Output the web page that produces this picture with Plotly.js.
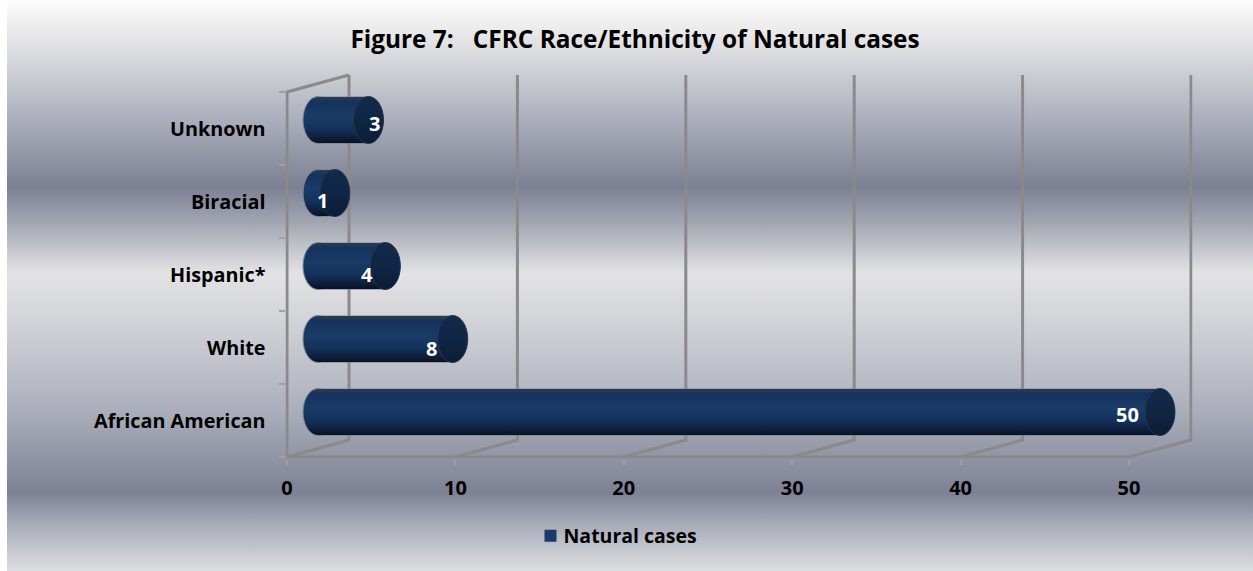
<!DOCTYPE html>
<html>
<head>
<meta charset="utf-8">
<script src="https://cdn.plot.ly/plotly-3.0.1.min.js"></script>
<style>
html,body{margin:0;padding:0;background:#fff;width:1253px;height:571px;overflow:hidden}
#bg{position:absolute;left:7px;top:0;width:1246px;height:571px;
background:linear-gradient(to bottom,#fdfdfd 0px,#e4e4e6 40px,#b6b9c4 105px,#7c8093 187px,#a2a5b1 222px,#e3e3e5 273px,#cdced4 335px,#aeb1bd 405px,#7d8194 493px,#a9acb9 525px,#dddee1 571px)}
#chart{position:absolute;left:0;top:0;width:1253px;height:571px}
</style>
</head>
<body>
<div id="bg"></div>
<div id="chart"></div>
<script>
const titleText = 'Figure 7:\u00A0\u00A0 CFRC Race/Ethnicity of Natural cases';
const seriesName = 'Natural cases';
const categories = ['African American', 'White', 'Hispanic*', 'Biracial', 'Unknown'];
const values = [50, 8, 4, 1, 3];
const xTicks = [0, 10, 20, 30, 40, 50];

// Layout constants (pixels of the 1253x571 page)
const W = 1253, H = 571, FONT = '"Open Sans", "Noto Sans", sans-serif';
const left = 287, right = 1191, floor = 457, top_ = 75;
const pxPerX = 16.84, pxPerBand = 73;
const depthPx = 62, risePx = 17;
const xMax = (right - left) / pxPerX, yMax = (floor - top_) / pxPerBand;
const depthX = depthPx / pxPerX, depthY = risePx / pxPerBand;
const GRID = '#8a8a8a', GRIDW = 3;
const edge = GRIDW / 2; // room around the frame so its lines are not clipped
const capRx = 15 / pxPerX, barFrac = 47 / pxPerBand;
const labelShift = {x: [-33, -21, -18, -12, 6], y: [2, 9, 8, 7, 3]};
const padX = 2; // room on the bar axis for the rounded left ends

// 3-D wall frame built from the axis ticks
const fx = [], fy = [];
xTicks.forEach(t => {
  fx.push(t, t + depthX, t + depthX, null);
  fy.push(0, depthY, yMax, null);
});
fx.push(0, 0, depthX, null, 0, xTicks[xTicks.length - 1]);
fy.push(0, yMax - depthY, yMax, null, 0, 0);

const frame = {type: 'scatter', mode: 'lines', x: fx, y: fy, xaxis: 'x', yaxis: 'y',
  line: {color: GRID, width: GRIDW}, hoverinfo: 'skip', showlegend: false, cliponaxis: false};

const bars = {type: 'bar', orientation: 'h', name: seriesName, x: values, y: categories,
  xaxis: 'x2', yaxis: 'y2', marker: {color: '#1b3a68', line: {width: 0}}, hoverinfo: 'x+y'};

const ry = barFrac / 2;
const capStyle = {type: 'circle', xref: 'x2', yref: 'y2'};
const shapes = [];
values.forEach((v, i) => shapes.push(Object.assign({}, capStyle, {layer: 'below',
  x0: -capRx, x1: capRx, y0: i - ry, y1: i + ry,
  fillcolor: '#1b3a68', line: {color: '#7b8591', width: 1}})));
values.forEach((v, i) => shapes.push(Object.assign({}, capStyle, {layer: 'above',
  x0: v - capRx, x1: v + capRx, y0: i - ry, y1: i + ry,
  fillcolor: '#10284a', line: {color: '#25364f', width: 1}})));

const annotations = values.map((v, i) => ({
  xref: 'x2', yref: 'y2', x: v, y: categories[i], text: String(v), showarrow: false,
  xshift: labelShift.x[i], yshift: -labelShift.y[i],
  font: {family: FONT, size: 20, color: '#fff', weight: 700}
}));

const layout = {
  width: W, height: H, margin: {l: 0, r: 0, t: 0, b: 0},
  paper_bgcolor: 'rgba(0,0,0,0)', plot_bgcolor: 'rgba(0,0,0,0)',
  font: {family: FONT, color: '#000'},
  title: {text: titleText, font: {family: FONT, size: 24.4, color: '#000', weight: 700},
    x: 635 / W, xref: 'paper', xanchor: 'center', y: 1 - 39 / H, yref: 'paper', yanchor: 'middle'},
  bargap: 1 - barFrac, barmode: 'overlay',
  xaxis: {domain: [(left - edge) / W, (right + edge) / W], range: [-edge / pxPerX, xMax + edge / pxPerX], tickmode: 'array', tickvals: xTicks,
    ticks: 'outside', ticklen: 5, tickwidth: 1.5, tickcolor: '#a0a0a0', showgrid: false, zeroline: false,
    showline: false, ticklabelstandoff: 6, tickfont: {family: FONT, size: 20, color: '#000', weight: 700}, anchor: 'y'},
  yaxis: {domain: [1 - (floor + edge) / H, 1 - (top_ - edge) / H], range: [-edge / pxPerBand, yMax + edge / pxPerBand], tickmode: 'array',
    tickvals: categories.map((c, i) => i + 0.5 - 1 / pxPerBand), ticktext: categories, ticks: '',
    minor: {tickvals: [0, 1, 2, 3, 4, 5], ticks: 'outside', ticklen: 6, tickwidth: 1.5, tickcolor: '#a0a0a0', showgrid: false},
    showgrid: false, zeroline: false, showline: false, ticklabelstandoff: 19,
    tickfont: {family: FONT, size: 19.8, color: '#000', weight: 700}, anchor: 'x'},
  xaxis2: {domain: [(left + depthPx / 2 - padX * pxPerX) / W, (right + depthPx / 2) / W], range: [-padX, xMax], visible: false, anchor: 'y2'},
  yaxis2: {domain: [1 - (floor - risePx / 2) / H, 1 - (top_ - risePx / 2) / H], range: [-0.5, yMax - 0.5],
    type: 'category', categoryorder: 'array', categoryarray: categories, visible: false, anchor: 'x2'},
  shapes: shapes, annotations: annotations,
  showlegend: true,
  legend: {orientation: 'h', x: 613 / W, xanchor: 'center', y: 1 - 536 / H, yanchor: 'middle',
    bgcolor: 'rgba(0,0,0,0)', font: {family: FONT, size: 19.5, color: '#000', weight: 700}}
};

Plotly.newPlot('chart', [frame, bars], layout, {displayModeBar: false}).then(gd => {
  const svg = gd.querySelector('.main-svg');
  const NS = 'http://www.w3.org/2000/svg';
  const defs = document.createElementNS(NS, 'defs');
  const mk = (id, stops) => {
    const g = document.createElementNS(NS, 'linearGradient');
    g.setAttribute('id', id); g.setAttribute('x1', '0'); g.setAttribute('y1', '0');
    g.setAttribute('x2', '0'); g.setAttribute('y2', '1');
    stops.forEach(s => {
      const e = document.createElementNS(NS, 'stop');
      e.setAttribute('offset', s[0]); e.setAttribute('stop-color', s[1]); g.appendChild(e);
    });
    defs.appendChild(g);
  };
  mk('cyl', [[0, '#7b8591'], [0.02, '#2b3b4f'], [0.12, '#14325d'], [0.42, '#1b3b68'], [0.7, '#14305a'], [0.9, '#0c1c37'], [0.98, '#0a1322'], [1, '#6c7582']]);
  mk('cap', [[0, '#12294b'], [0.5, '#0f2645'], [1, '#0c1c36']]);
  svg.insertBefore(defs, svg.firstChild);
  gd.querySelectorAll('.barlayer .point path').forEach(p => { p.style.fill = 'url(#cyl)'; });
  gd.querySelectorAll('.shapelayer path[data-index]').forEach(p => {
    const i = +p.getAttribute('data-index');
    p.style.fill = i < values.length ? 'url(#cyl)' : 'url(#cap)';
  });
  // tighten the gap between the legend swatch and its text
  gd.querySelectorAll('.legend .legendpoints').forEach(p => { p.setAttribute('transform', 'translate(7,0)'); });
});
</script>
</body>
</html>
